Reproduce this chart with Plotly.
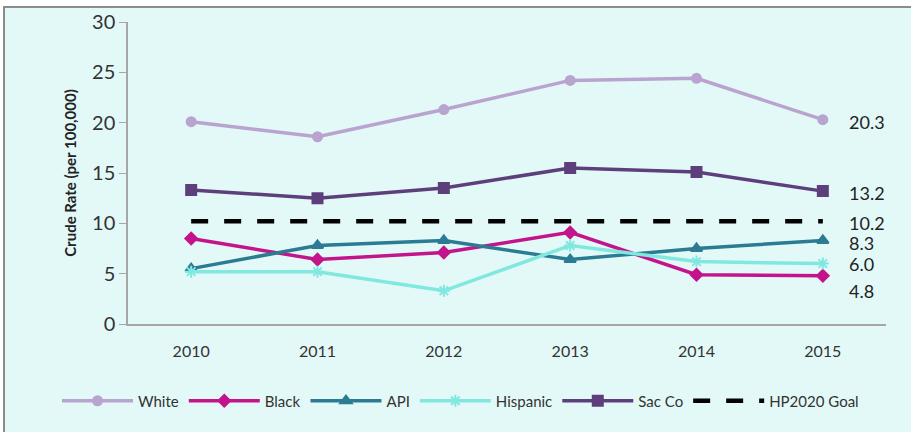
import plotly.graph_objects as go

years = ["2010", "2011", "2012", "2013", "2014", "2015"]
white = [20.1, 18.6, 21.3, 24.2, 24.4, 20.3]
black = [8.5, 6.4, 7.1, 9.1, 4.9, 4.8]
api = [5.5, 7.8, 8.3, 6.4, 7.5, 8.3]
hispanic = [5.2, 5.2, 3.3, 7.8, 6.2, 6.0]
sacco = [13.3, 12.5, 13.5, 15.5, 15.1, 13.2]
goal = [10.2, 10.2, 10.2, 10.2, 10.2, 10.2]

end_labels = ["20.3", "13.2", "10.2", "8.3", "6.0", "4.8"]
end_values = [20.3, 13.2, 10.2, 8.3, 6.0, 4.8]
end_shifts = [-2, -2, -2, -3, 0, -15]

W, H = 911, 432
L, R, T, B = 128, 25, 22, 108
pw, ph = W - L - R, H - T - B

def px(xp):
    return (xp - L) / pw

def py(yp):
    return (H - B - yp) / ph

fig = go.Figure()

series = [
    ("White", white, "#b9a3cf", "circle", 9),
    ("Black", black, "#c3148c", "diamond", 9),
    ("API", api, "#2b7c93", "triangle-up", 10),
    ("Hispanic", hispanic, "#80e8df", "asterisk-open", 10),
    ("Sac Co", sacco, "#5d3f7c", "square", 10),
]
for name, vals, color, sym, size in series:
    fig.add_trace(go.Scatter(
        x=years, y=vals, name=name, mode="lines+markers",
        line=dict(color=color, width=3.5),
        marker=dict(symbol=sym, size=size, color=color,
                    line=dict(color=color, width=2)),
    ))

fig.add_trace(go.Scatter(
    x=years, y=goal, name="HP2020 Goal", mode="lines",
    line=dict(color="black", width=4.5, dash="17px,16px"),
))

last = len(years) - 1
for lab, v, s in zip(end_labels, end_values, end_shifts):
    fig.add_annotation(x=last, y=v, text=lab, showarrow=False,
                       xanchor="left", xshift=24, yshift=s,
                       font=dict(size=18, color="#222222", family="Lato"))

fig.add_shape(type="rect", xref="paper", yref="paper",
              x0=px(4), x1=px(930), y0=py(7), y1=py(450),
              fillcolor="#e3f9f8", line=dict(color="#8c8c8c", width=2),
              layer="below")

fig.update_layout(
    width=W, height=H,
    margin=dict(l=L, r=R, t=T, b=B, autoexpand=False),
    paper_bgcolor="white",
    plot_bgcolor="rgba(0,0,0,0)",
    font=dict(family="Lato", color="#333333"),
    showlegend=True,
    legend=dict(orientation="h", x=px(57), xanchor="left", y=py(401), yanchor="middle",
                font=dict(size=15, color="#333333"), bgcolor="rgba(0,0,0,0)",
                itemwidth=71, tracegroupgap=0),
    xaxis=dict(type="category", showgrid=False, showline=True, linecolor="#a6a6a6",
               linewidth=2, ticks="", tickfont=dict(size=16, color="#333333"),
               range=[-0.5, 5.5], ticklabelstandoff=12),
    yaxis=dict(range=[0, 30], dtick=5, showgrid=False, showline=True,
               linecolor="#a6a6a6", linewidth=1.5, ticks="outside", ticklen=7,
               tickcolor="#a6a6a6", tickfont=dict(size=20, color="#333333"),
               title=dict(text="<b>Crude Rate (per 100,000)</b>",
                          font=dict(size=15, color="#222222"), standoff=12),
               zeroline=False),
)

fig.write_html("out.html", config={"displayModeBar": False},
               post_script="document.body.style.margin='0';")
